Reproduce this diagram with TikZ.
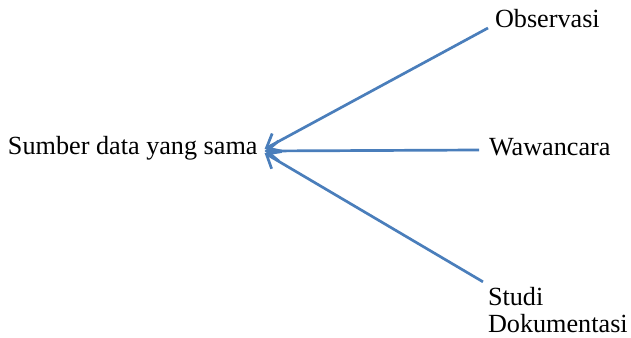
\documentclass[tikz,border=0pt]{standalone}
\usepackage{fontspec}
\setmainfont{Liberation Serif}
\usetikzlibrary{arrows.meta,calc}
\definecolor{linkblue}{HTML}{4A7EBB}
\tikzset{
  lbl/.style={inner sep=0pt, outer sep=0pt, font=\fontsize{26.2}{28}\selectfont},
  arr/.style={draw=linkblue, line width=2.7pt,
    -{Straight Barb[length=12pt,width=20pt,line width=2.7pt]}}
}
\begin{document}
\begin{tikzpicture}[x=1pt,y=-1pt]
  \useasboundingbox (0,0) rectangle (631,337);
  % labels
  \node[lbl, anchor=base west] (src) at (8,154) {Sumber data yang sama};
  \node[lbl, anchor=base west] (obs) at (495,28) {Observasi};
  \node[lbl, anchor=base west] (waw) at (489,155) {Wawancara};
  \node[lbl, anchor=base west] (stu) at (488,305) {Studi};
  \node[lbl, anchor=base west] (dok) at (488,332) {Dokumentasi};
  % converging arrow tips
  \coordinate (tipA) at ($(src.base east)+(7,-5)$);
  \coordinate (tipB) at ($(src.base east)+(7,-3)$);
  \coordinate (tipC) at ($(src.base east)+(7,-1)$);
  % connectors
  \draw[arr] ($(obs.base west)+(-7,0)$) -- (tipA);
  \draw[arr] ($(waw.base west)+(-10,-5)$) -- (tipB);
  \draw[arr] ($(stu.north west)+(-5,-5)$) -- (tipC);
\end{tikzpicture}
\end{document}
